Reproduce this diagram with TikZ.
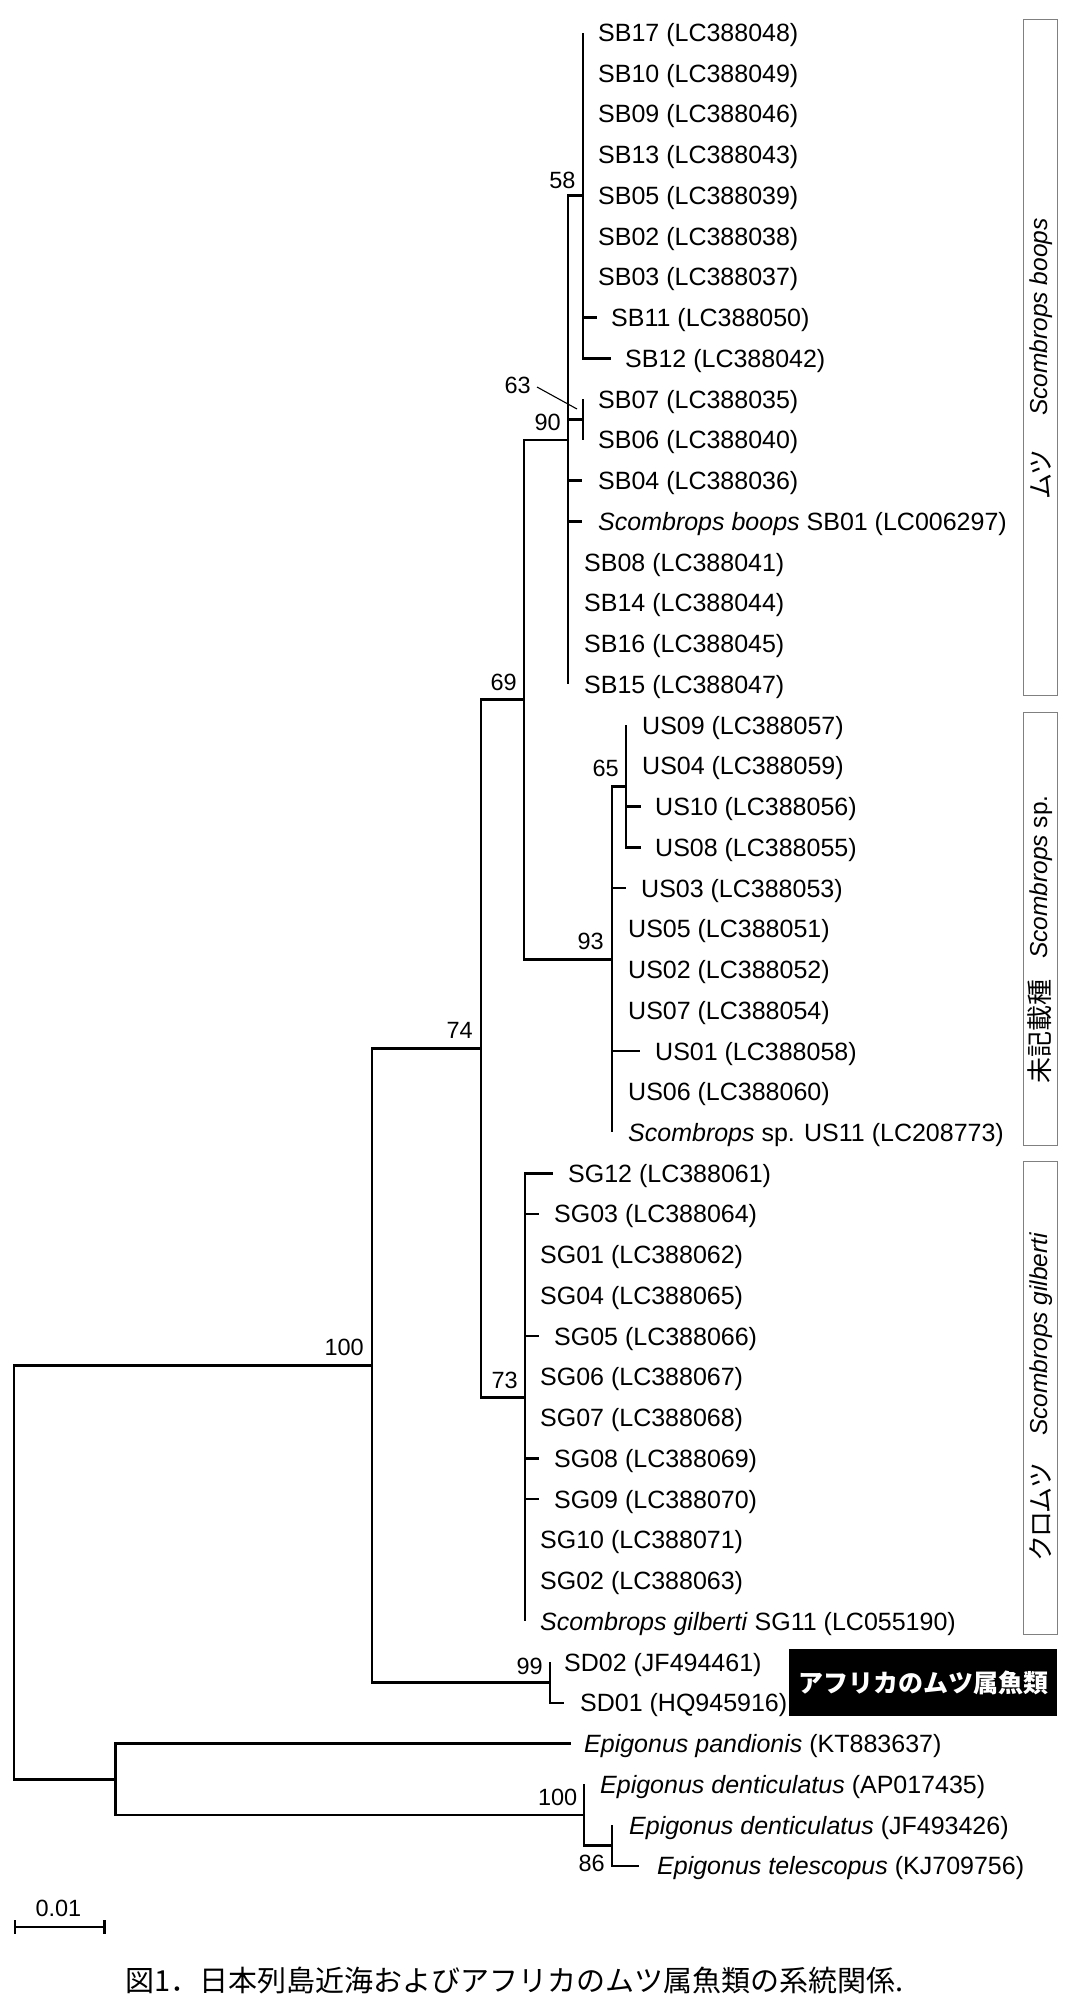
\documentclass[tikz,border=0pt]{standalone}
\usepackage{fontspec}
\setmainfont{Liberation Sans}
\newfontfamily\cjk{Noto Sans CJK JP}
\newfontfamily\cjkp[RawFeature=+palt]{Noto Sans CJK JP}
\tikzset{
  br/.style={line width=2.6pt},
  leaflab/.style={anchor=base west, inner sep=0pt, font=\fontsize{25}{30}\selectfont},
  bslab/.style={anchor=east, inner sep=0pt, font=\fontsize{23.5}{28}\selectfont},
  grpbox/.style={draw=black!50, line width=1.2pt, inner sep=0pt, anchor=north west},
  boxjp/.style={rotate=90, inner sep=0pt, anchor=base west, font=\cjkp\fontsize{26}{30}\selectfont},
  boxla/.style={rotate=90, inner sep=0pt, anchor=base west, font=\itshape\fontsize{24.5}{30}\selectfont},
  pointer/.style={line width=1.1pt}
}
\newcommand{\mkleaf}[6]{%
  \pgfmathsetmacro{\yy}{32.5+40.74*#3}%
  \coordinate (t#1) at (#4,\yy);
  \node[leaflab] (l#1) at (#5,\yy+9) {#6};
  \draw[br] (#2) |- (t#1);
}
\begin{document}
\begin{tikzpicture}[x=1pt,y=-1pt]
\useasboundingbox (0,0) rectangle (1078,2016);
% internal nodes
\coordinate (R) at (14,1572.35);
\coordinate (N100) at (372,1365.45);
\coordinate (N74) at (481,1048.45);
\coordinate (N69) at (524,699.6);
\coordinate (N90) at (568,439.9);
\coordinate (N58) at (583,195.45);
\coordinate (N63) at (583,419.55);
\coordinate (N93) at (612,959.35);
\coordinate (N65) at (626,786.2);
\coordinate (N73) at (525,1397.3);
\coordinate (N99) at (550,1682.45);
\coordinate (Nout) at (115.5,1779.25);
\coordinate (NE100) at (584,1814.9);
\coordinate (N86) at (612,1845.45);
% internal branches
\draw[br] (R) |- (N100);
\draw[br] (R) |- (Nout);
\draw[br] (N100) |- (N74);
\draw[br] (N100) |- (N99);
\draw[br] (N74) |- (N69);
\draw[br] (N74) |- (N73);
\draw[br] (N69) |- (N90);
\draw[br] (N69) |- (N93);
\draw[br] (N90) |- (N58);
\draw[br] (N90) |- (N63);
\draw[br] (N93) |- (N65);
\draw[br] (Nout) |- (NE100);
\draw[br] (NE100) |- (N86);
% leaves
\mkleaf{SB17}{N58}{0}{583}{598}{SB17 (LC388048)}
\mkleaf{SB10}{N58}{1}{583}{598}{SB10 (LC388049)}
\mkleaf{SB09}{N58}{2}{583}{598}{SB09 (LC388046)}
\mkleaf{SB13}{N58}{3}{583}{598}{SB13 (LC388043)}
\mkleaf{SB05}{N58}{4}{583}{598}{SB05 (LC388039)}
\mkleaf{SB02}{N58}{5}{583}{598}{SB02 (LC388038)}
\mkleaf{SB03}{N58}{6}{583}{598}{SB03 (LC388037)}
\mkleaf{SB11}{N58}{7}{597}{611}{SB11 (LC388050)}
\mkleaf{SB12}{N58}{8}{611}{625}{SB12 (LC388042)}
\mkleaf{SB07}{N63}{9}{583}{598}{SB07 (LC388035)}
\mkleaf{SB06}{N63}{10}{583}{598}{SB06 (LC388040)}
\mkleaf{SB04}{N90}{11}{582}{598}{SB04 (LC388036)}
\mkleaf{SB01}{N90}{12}{582}{598}{\textit{Scombrops boops} SB01 (LC006297)}
\mkleaf{SB08}{N90}{13}{568}{584}{SB08 (LC388041)}
\mkleaf{SB14}{N90}{14}{568}{584}{SB14 (LC388044)}
\mkleaf{SB16}{N90}{15}{568}{584}{SB16 (LC388045)}
\mkleaf{SB15}{N90}{16}{568}{584}{SB15 (LC388047)}
\mkleaf{US09}{N65}{17}{626}{642}{US09 (LC388057)}
\mkleaf{US04}{N65}{18}{626}{642}{US04 (LC388059)}
\mkleaf{US10}{N65}{19}{641}{655}{US10 (LC388056)}
\mkleaf{US08}{N65}{20}{641}{655}{US08 (LC388055)}
\mkleaf{US03}{N93}{21}{626}{641}{US03 (LC388053)}
\mkleaf{US05}{N93}{22}{612}{628}{US05 (LC388051)}
\mkleaf{US02}{N93}{23}{612}{628}{US02 (LC388052)}
\mkleaf{US07}{N93}{24}{612}{628}{US07 (LC388054)}
\mkleaf{US01}{N93}{25}{640}{655}{US01 (LC388058)}
\mkleaf{US06}{N93}{26}{612}{628}{US06 (LC388060)}
\mkleaf{US11}{N93}{27}{612}{628}{\textit{Scombrops} sp. US11 (LC208773)}
\mkleaf{SG12}{N73}{28}{553}{568}{SG12 (LC388061)}
\mkleaf{SG03}{N73}{29}{539}{554}{SG03 (LC388064)}
\mkleaf{SG01}{N73}{30}{525}{540}{SG01 (LC388062)}
\mkleaf{SG04}{N73}{31}{525}{540}{SG04 (LC388065)}
\mkleaf{SG05}{N73}{32}{539}{554}{SG05 (LC388066)}
\mkleaf{SG06}{N73}{33}{525}{540}{SG06 (LC388067)}
\mkleaf{SG07}{N73}{34}{525}{540}{SG07 (LC388068)}
\mkleaf{SG08}{N73}{35}{539}{554}{SG08 (LC388069)}
\mkleaf{SG09}{N73}{36}{539}{554}{SG09 (LC388070)}
\mkleaf{SG10}{N73}{37}{525}{540}{SG10 (LC388071)}
\mkleaf{SG02}{N73}{38}{525}{540}{SG02 (LC388063)}
\mkleaf{SG11}{N73}{39}{525}{540}{\textit{Scombrops gilberti} SG11 (LC055190)}
\mkleaf{SD02}{N99}{40}{550}{564}{SD02 (JF494461)}
\mkleaf{SD01}{N99}{41}{564}{580}{SD01 (HQ945916)}
\mkleaf{Epan}{Nout}{42}{571}{584}{\textit{Epigonus pandionis} (KT883637)}
\mkleaf{EdenA}{NE100}{43}{584}{600}{\textit{Epigonus denticulatus} (AP017435)}
\mkleaf{EdenB}{N86}{44}{612}{629}{\textit{Epigonus denticulatus} (JF493426)}
\mkleaf{Etel}{N86}{45}{639}{657}{\textit{Epigonus telescopus} (KJ709756)}
% bootstrap labels
\node[bslab] (b58) at (575.6,180) {58};
\node[bslab] (b63) at (531,385) {63};
\node[bslab] (b90) at (561,422) {90};
\node[bslab] (b69) at (517,682) {69};
\node[bslab] (b65) at (619,768) {65};
\node[bslab] (b93) at (604,941) {93};
\node[bslab] (b74) at (473,1030) {74};
\node[bslab] (b73) at (518,1380) {73};
\node[bslab] (b100) at (364,1347) {100};
\node[bslab] (b99) at (543,1666) {99};
\node[bslab] (bE100) at (577.5,1797) {100};
\node[bslab] (b86) at (605,1863) {86};
\coordinate (p63) at (577,409);
\draw[pointer] ([xshift=6pt,yshift=-2pt]b63.east) -- (p63);
% group boxes
\node[grpbox, minimum width=34.3pt, minimum height=676pt] (gSB) at (1022.7,19) {};
\node[grpbox, minimum width=34.3pt, minimum height=433pt] (gUS) at (1022.7,712) {};
\node[grpbox, minimum width=34.3pt, minimum height=473pt] (gSG) at (1022.7,1161) {};
\node[boxjp] (jSB) at (1050,499) {ムツ};
\node[boxla] (sSB) at (1047,416) {Scombrops boops};
\node[boxjp] (jUS) at (1049,1084) {未記載種};
\node[boxla] (sUS) at (1047,959) {Scombrops \upshape sp.};
\node[boxjp] (jSG) at (1050,1561) {クロムツ};
\node[boxla] (sSG) at (1047,1436) {Scombrops gilberti};
% African box
\node[fill=black, text=white, minimum width=268pt, minimum height=67pt, inner sep=0pt,
      font=\cjk\bfseries\fontsize{25}{30}\selectfont] (afr) at (923,1682.5) {アフリカのムツ属魚類};
% scale bar
\coordinate (s0) at (15,1927);
\coordinate (s1) at (104.5,1927);
\draw[line width=2.4pt] (s0) -- (s1);
\draw[line width=2.2pt] ([yshift=7pt]s0) -- ([yshift=-7pt]s0);
\draw[line width=2.2pt] ([yshift=7pt]s1) -- ([yshift=-7pt]s1);
\node[inner sep=0pt, font=\fontsize{23.5}{28}\selectfont] (sl) at (58.4,1908) {0.01};
% caption
\node[anchor=base west, inner sep=0pt, font=\cjk\fontsize{29}{34}\selectfont] (cap) at (125,1991)
  {図1．日本列島近海およびアフリカのムツ属魚類の系統関係.};
\end{tikzpicture}
\end{document}
